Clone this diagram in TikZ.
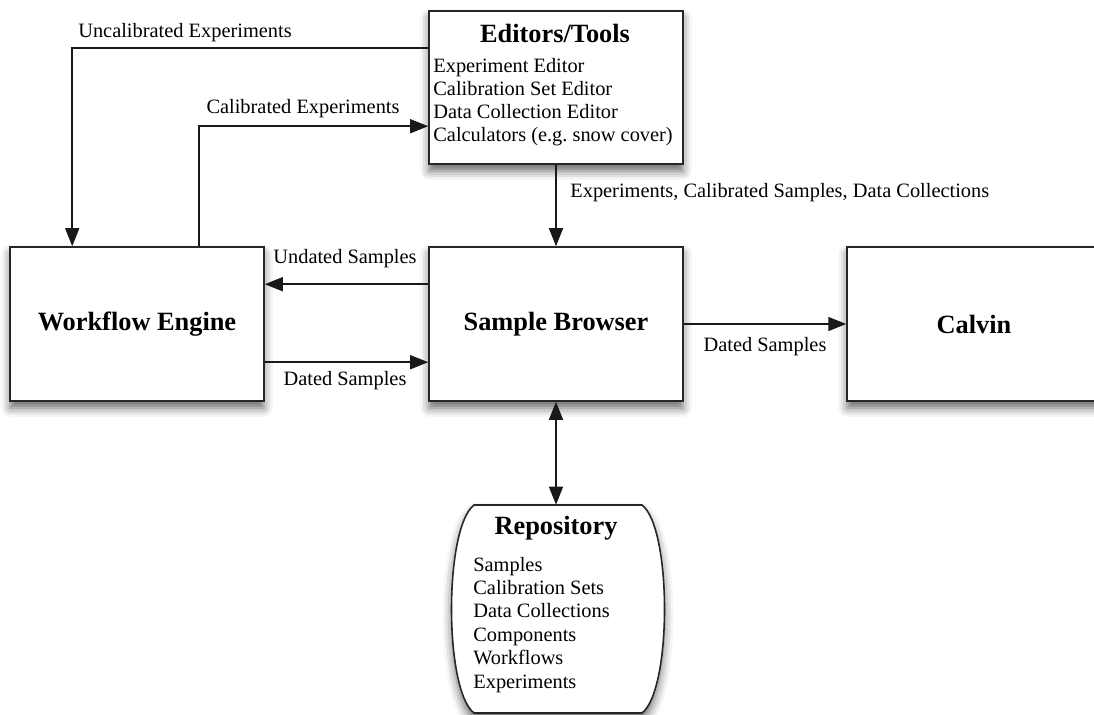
\documentclass[tikz,border=0pt]{standalone}
\usepackage{fontspec}
\setmainfont{Liberation Serif}
\usetikzlibrary{arrows.meta,shadows.blur}
\tikzset{ftip/.tip={Triangle[length=0.36cm,width=0.28cm]}}
\begin{document}
\begin{tikzpicture}[x=0.02cm,y=-0.02cm,
  shade/.style={blur shadow={shadow xshift=0pt, shadow yshift=-4pt, shadow blur radius=5pt, shadow opacity=60}},
  box/.style={shade, draw=black!85, line width=0.9pt, fill=white, rectangle,
    minimum width=5.08cm, minimum height=3.08cm, inner sep=0pt,
    font=\fontsize{15}{18}\selectfont\bfseries},
  title/.style={font=\fontsize{15}{18}\selectfont\bfseries, inner sep=0pt},
  body/.style={font=\fontsize{11.6}{13.3}\selectfont, inner sep=0pt, anchor=base west},
  lbl/.style={font=\fontsize{11.6}{13.3}\selectfont, inner sep=0pt},
  flow/.style={draw=black!90, line width=0.85pt, -{ftip}},
]
\useasboundingbox (0,0) rectangle (1094,714);

% main boxes
\node[box, minimum height=3.06cm] (ed) at (556,87.5) {};
\node[title] (edt) at (555,33) {Editors/Tools};
\foreach \t [count=\i] in {Experiment Editor, Calibration Set Editor,
    Data Collection Editor, Calculators (e.g.\ snow cover)}
  \node[body] (ed\i) at (433,{72+23.3*(\i-1)}) {\t};

\node[box] (we) at (137,324) {Workflow Engine};
\node[box] (sb) at (556,324) {Sample Browser};
\node[box] (cal) at (974,324) {Calvin};

% repository: barrel-shaped store
\node[minimum width=4.26cm, minimum height=4.16cm, inner sep=0pt] (repo) at (558,609) {};
\path[shade, draw=black!85, line width=0.9pt, fill=white]
  (474,505) -- (642,505) .. controls (672,528) and (672,690) .. (642,713)
  -- (474,713) .. controls (444,690) and (444,528) .. (474,505) -- cycle;
\node[title] (rpt) at (556,528) {Repository};
\foreach \t [count=\i] in {Samples, Calibration Sets, Data Collections,
    Components, Workflows, Experiments}
  \node[body] (rp\i) at (473,{571+23.4*(\i-1)}) {\t};

% connectors
\draw[flow] ([yshift=-0.76cm]ed.north west) -| ([xshift=1.26cm]we.north west);
\node[lbl] (l1) at (185,33) {Uncalibrated Experiments};

\draw[flow] ([xshift=3.8cm]we.north west) |- ([yshift=-2.32cm]ed.north west);
\node[lbl] (l2) at (303,109) {Calibrated Experiments};

\draw[flow] (ed.south) -- (sb.north);
\node[lbl, anchor=west] (l3) at (570,193) {Experiments, Calibrated Samples, Data Collections};

\draw[flow] ([yshift=-0.76cm]sb.north west) -- ([yshift=-0.76cm]we.north east);
\node[lbl] (l4) at (345,259) {Undated Samples};

\draw[flow] ([yshift=-2.32cm]we.north east) -- ([yshift=-2.32cm]sb.north west);
\node[lbl] (l5) at (345,381) {Dated Samples};

\draw[flow] (sb.east) -- (cal.west);
\node[lbl] (l6) at (765,347) {Dated Samples};

\draw[flow, {ftip}-{ftip}] (sb.south) -- (sb.south |- repo.north);
\end{tikzpicture}
\end{document}
